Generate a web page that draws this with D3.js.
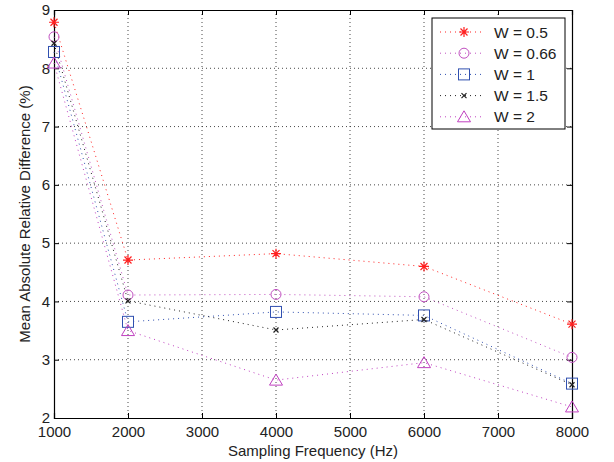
<!DOCTYPE html>
<html>
<head>
<meta charset="utf-8">
<script src="https://cdn.jsdelivr.net/npm/d3@7"></script>
<style>
  body { margin: 0; background: #fff; }
  text { font-family: "Liberation Sans", Arial, sans-serif; }
</style>
</head>
<body>
<div id="main"></div>
<script>
// data
const freqs = [1000, 2000, 4000, 6000, 8000];
const seriesNames = ['W = 0.5', 'W = 0.66', 'W = 1', 'W = 1.5', 'W = 2'];
const w05 = [8.79, 4.71, 4.82, 4.60, 3.61];
const w066 = [8.54, 4.11, 4.12, 4.08, 3.04];
const w1 = [8.28, 3.65, 3.82, 3.76, 2.59];
const w15 = [8.43, 4.01, 3.51, 3.69, 2.57];
const w2 = [8.09, 3.50, 2.65, 2.95, 2.19];
const xTicks = [1000, 2000, 3000, 4000, 5000, 6000, 7000, 8000];
const yTicks = [2, 3, 4, 5, 6, 7, 8, 9];

const series = [
  { name: seriesNames[0], values: w05, color: '#ff2020', marker: 'star' },
  { name: seriesNames[1], values: w066, color: '#c050c0', marker: 'circle' },
  { name: seriesNames[2], values: w1, color: '#3050b0', marker: 'square' },
  { name: seriesNames[3], values: w15, color: '#222222', marker: 'x' },
  { name: seriesNames[4], values: w2, color: '#c040c0', marker: 'triangle' }
];

const svgWidth = 614;
const svgHeight = 462;
const margin = { t: 10, r: 42, b: 44, l: 54 };
const w = svgWidth - margin.l - margin.r;
const h = svgHeight - margin.t - margin.b;

const svg = d3.select('#main').append('svg')
  .attr('width', svgWidth)
  .attr('height', svgHeight);

const g = svg.append('g')
  .attr('transform', `translate(${margin.l},${margin.t})`);

const x = d3.scaleLinear().domain([1000, 8000]).range([0, w]);
const y = d3.scaleLinear().domain([2, 9]).range([h, 0]);

// grid
g.append('g').selectAll('line').data(xTicks.slice(1, -1)).enter().append('line')
  .attr('x1', d => x(d)).attr('x2', d => x(d)).attr('y1', 0).attr('y2', h)
  .attr('stroke', '#333').attr('stroke-width', 0.9).attr('stroke-dasharray', '1,3');
g.append('g').selectAll('line').data(yTicks.slice(1, -1)).enter().append('line')
  .attr('y1', d => y(d)).attr('y2', d => y(d)).attr('x1', 0).attr('x2', w)
  .attr('stroke', '#333').attr('stroke-width', 0.9).attr('stroke-dasharray', '1,3');

// axes
const xAxis = d3.axisBottom(x).tickValues(xTicks).tickSize(-5).tickPadding(8).tickFormat(d3.format('d'));
const yAxis = d3.axisLeft(y).tickValues(yTicks).tickSize(-5).tickPadding(4).tickFormat(d3.format('d'));
const xTop = d3.axisTop(x).tickValues(xTicks).tickSize(-5).tickFormat('');
const yRight = d3.axisRight(y).tickValues(yTicks).tickSize(-5).tickFormat('');

g.append('g').attr('transform', `translate(0,${h})`).call(xAxis);
g.append('g').call(yAxis);
g.append('g').call(xTop);
g.append('g').attr('transform', `translate(${w},0)`).call(yRight);

g.selectAll('.domain').attr('stroke', '#000').attr('stroke-width', 1.2);
g.selectAll('.tick line').attr('stroke', '#000');
g.selectAll('.tick text').style('font-size', '15px').attr('fill', '#222')
  .style('font-family', '"Liberation Sans", Arial, sans-serif');

// markers
function drawMarker(sel, type, color) {
  if (type === 'star') {
    sel.append('path').attr('d', 'M-5,0L5,0M0,-5L0,5M-3.5,-3.5L3.5,3.5M-3.5,3.5L3.5,-3.5')
      .attr('stroke', color).attr('stroke-width', 1.2).attr('fill', 'none');
  } else if (type === 'circle') {
    sel.append('circle').attr('r', 5).attr('fill', 'none').attr('stroke', color).attr('stroke-width', 1);
  } else if (type === 'square') {
    sel.append('rect').attr('x', -5.5).attr('y', -5.5).attr('width', 11).attr('height', 11)
      .attr('fill', 'none').attr('stroke', color).attr('stroke-width', 1);
  } else if (type === 'x') {
    sel.append('path').attr('d', 'M-2.5,-2.5L2.5,2.5M-2.5,2.5L2.5,-2.5')
      .attr('stroke', color).attr('stroke-width', 1.2);
  } else if (type === 'triangle') {
    sel.append('path').attr('d', 'M0,-6L6.5,5L-6.5,5Z')
      .attr('fill', 'none').attr('stroke', color).attr('stroke-width', 1);
  }
}

const line = d3.line().x((d, i) => x(freqs[i])).y(d => y(d));

series.forEach(s => {
  g.append('path').datum(s.values)
    .attr('d', line)
    .attr('fill', 'none')
    .attr('stroke', s.color)
    .attr('stroke-width', 1)
    .attr('stroke-dasharray', '1,4');
  s.values.forEach((v, i) => {
    const m = g.append('g').attr('transform', `translate(${x(freqs[i])},${y(v)})`);
    drawMarker(m, s.marker, s.color);
  });
});

// legend
const legend = g.append('g').attr('transform', `translate(${x(8000) - 140},${8})`);
legend.append('rect').attr('width', 133).attr('height', 111)
  .attr('fill', '#fff').attr('stroke', '#000').attr('stroke-width', 1);
series.forEach((s, i) => {
  const ly = 14 + i * 21.2;
  legend.append('line').attr('x1', 8).attr('x2', 53).attr('y1', ly).attr('y2', ly)
    .attr('stroke', s.color).attr('stroke-dasharray', '1,4');
  const m = legend.append('g').attr('transform', `translate(32,${ly})`);
  drawMarker(m, s.marker, s.color);
  legend.append('text').attr('x', 62).attr('y', ly + 5.5)
    .style('font-size', '15.5px').attr('fill', '#222').text(s.name);
});

// axis labels
svg.append('text')
  .attr('x', margin.l + w / 2).attr('y', 456)
  .attr('text-anchor', 'middle').style('font-size', '15px').attr('fill', '#222')
  .text('Sampling Frequency (Hz)');
svg.append('text')
  .attr('transform', `translate(30,${margin.t + h / 2}) rotate(-90)`)
  .attr('text-anchor', 'middle').style('font-size', '15px').attr('fill', '#222')
  .text('Mean Absolute Relative Difference (%)');
</script>
</body>
</html>
